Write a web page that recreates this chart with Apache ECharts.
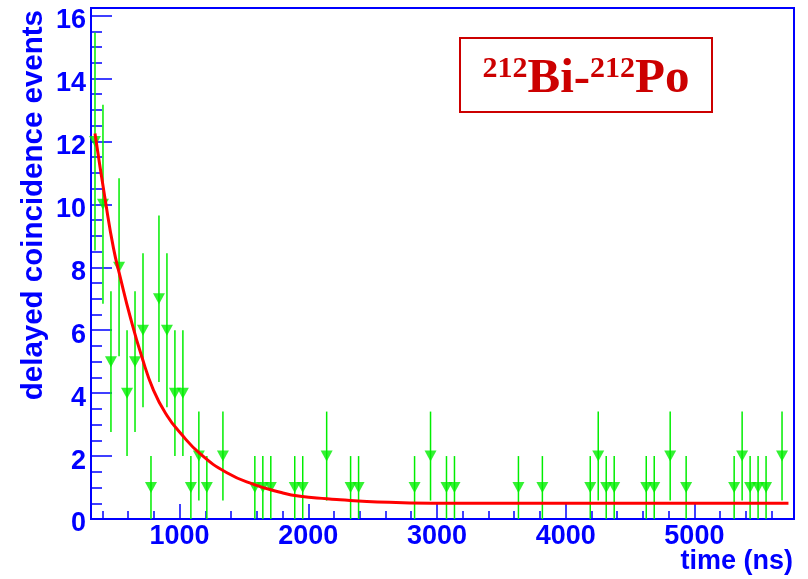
<!DOCTYPE html>
<html>
<head>
<meta charset="utf-8">
<script src="https://cdn.jsdelivr.net/npm/echarts@6/dist/echarts.min.js"></script>
<style>html,body{margin:0;padding:0;background:#fff}#c{width:808px;height:579px}</style>
</head>
<body>
<div id="c"></div>
<script>
// bin centres (ns) and delayed coincidence counts
const timeNs = [343,405,467,530,592,654,716,778,840,902,964,1026,1088,1150,1212,1337,1585,1647,1709,1895,1957,2143,2329,2391,2826,2950,3074,3136,3633,3819,4191,4253,4315,4377,4626,4688,4812,4936,5309,5371,5433,5495,5557,5681];
const counts = [12,10,5,8,4,5,6,1,7,6,4,4,1,2,1,2,1,1,1,1,1,2,1,1,1,2,1,1,1,1,1,2,1,1,1,1,2,1,1,2,1,1,1,2];
// fitted curve
const fitT = [343,423,487,539,617,708,798,902,1005,1161,1368,1575,1782,1937,2145,2248,2455,2960,3500,4500,5731];
const fitY = [12.25,10.13,8.6,7.69,6.42,5.14,4.09,3.29,2.74,2.07,1.47,1.1,0.85,0.72,0.64,0.61,0.56,0.5,0.5,0.5,0.5];
// tick labels
const xTicks = [1000,2000,3000,4000,5000];
const yTicks = [0,2,4,6,8,10,12,14,16];

const xMinor = []; for (let v = 400; v <= 5700; v += 200) xMinor.push(v);
const yMinor = []; for (let v = 0; v <= 16; v += 0.5) yMinor.push(v);

const BLUE = '#0000ff', GREEN = '#00ee00', RED = '#ff0000', DRED = '#cc0000';
const SANS = '"Liberation Sans", Arial, sans-serif';
const SERIF = '"Liberation Serif", "Times New Roman", serif';

const chart = echarts.init(document.getElementById('c'), null, {renderer: 'canvas'});
const X0 = 312, X1 = 5774, Y1 = 16.24;

chart.setOption({
  animation: false,
  backgroundColor: '#ffffff',
  grid: {left: 91, top: 8, width: 703, height: 511, show: true, borderColor: BLUE, borderWidth: 2, backgroundColor: 'transparent'},
  xAxis: [
    {type: 'value', min: X0, max: X1, position: 'bottom',
     axisLine: {onZero: false, lineStyle: {color: BLUE, width: 2}},
     axisTick: {inside: true, length: 15, customValues: xTicks, lineStyle: {color: BLUE, width: 1.5}},
     axisLabel: {customValues: xTicks, formatter: v => String(v), color: BLUE, fontSize: 27, fontWeight: 'bold', fontFamily: SANS, margin: 4},
     splitLine: {show: false}},
    {type: 'value', min: X0, max: X1, position: 'bottom',
     axisLine: {show: false, onZero: false},
     axisTick: {inside: true, length: 8, customValues: xMinor, lineStyle: {color: BLUE, width: 1.5}},
     axisLabel: {show: false}, splitLine: {show: false}}
  ],
  yAxis: [
    {type: 'value', min: 0, max: Y1, position: 'left',
     axisLine: {onZero: false, lineStyle: {color: BLUE, width: 2}},
     axisTick: {inside: true, length: 21, customValues: yTicks, lineStyle: {color: BLUE, width: 1.5}},
     axisLabel: {customValues: yTicks, formatter: v => String(v), color: BLUE, fontSize: 27, fontWeight: 'bold', fontFamily: SANS, margin: 5, verticalAlign: 'top', lineHeight: 10},
     splitLine: {show: false}},
    {type: 'value', min: 0, max: Y1, position: 'left',
     axisLine: {show: false, onZero: false},
     axisTick: {inside: true, length: 11, customValues: yMinor, lineStyle: {color: BLUE, width: 1.5}},
     axisLabel: {show: false}, splitLine: {show: false}}
  ],
  series: [
    {type: 'custom', xAxisIndex: 0, yAxisIndex: 0, z: 2,
     data: timeNs.map((t, i) => [t, counts[i], Math.sqrt(counts[i])]),
     renderItem: function (params, api) {
       const x = api.value(0), y = api.value(1), e = api.value(2);
       const p1 = api.coord([x, y - e]), p2 = api.coord([x, Math.min(y + e, Y1)]);
       return {type: 'line', shape: {x1: p1[0], y1: p1[1], x2: p2[0], y2: p2[1]},
               style: {stroke: GREEN, lineWidth: 1.5}};
     }},
    {type: 'scatter', xAxisIndex: 0, yAxisIndex: 0, z: 3,
     symbol: 'triangle', symbolRotate: 180, symbolSize: [12, 11],
     itemStyle: {color: GREEN},
     data: timeNs.map((t, i) => [t, counts[i]])},
    {type: 'line', xAxisIndex: 0, yAxisIndex: 0, z: 4,
     smooth: 0.5, showSymbol: false,
     lineStyle: {color: RED, width: 3},
     data: fitT.map((t, i) => [t, fitY[i]])}
  ],
  graphic: [
    {type: 'rect', shape: {x: 460, y: 38, width: 252, height: 74},
     style: {fill: '#ffffff', stroke: DRED, lineWidth: 2}, z: 10},
    {type: 'text', x: 586, y: 79, z: 11,
     style: {text: '{s|212}{b|Bi-}{s|212}{b|Po}', align: 'center', verticalAlign: 'middle', fill: DRED,
       rich: {
         s: {fontSize: 30, fontWeight: 'bold', fontFamily: SERIF, fill: DRED, verticalAlign: 'top', lineHeight: 49},
         b: {fontSize: 49, fontWeight: 'bold', fontFamily: SERIF, fill: DRED, verticalAlign: 'bottom', lineHeight: 49}
       }}},
    {type: 'text', x: 793, y: 562,
     style: {text: 'time (ns)', font: 'bold 27px ' + SANS, fill: BLUE, align: 'right', verticalAlign: 'middle'}},
    {type: 'text', x: 34, y: 10, rotation: Math.PI / 2,
     style: {text: 'delayed coincidence events', font: 'bold 29.5px ' + SANS, fill: BLUE, align: 'right', verticalAlign: 'middle'}}
  ]
});
</script>
</body>
</html>
